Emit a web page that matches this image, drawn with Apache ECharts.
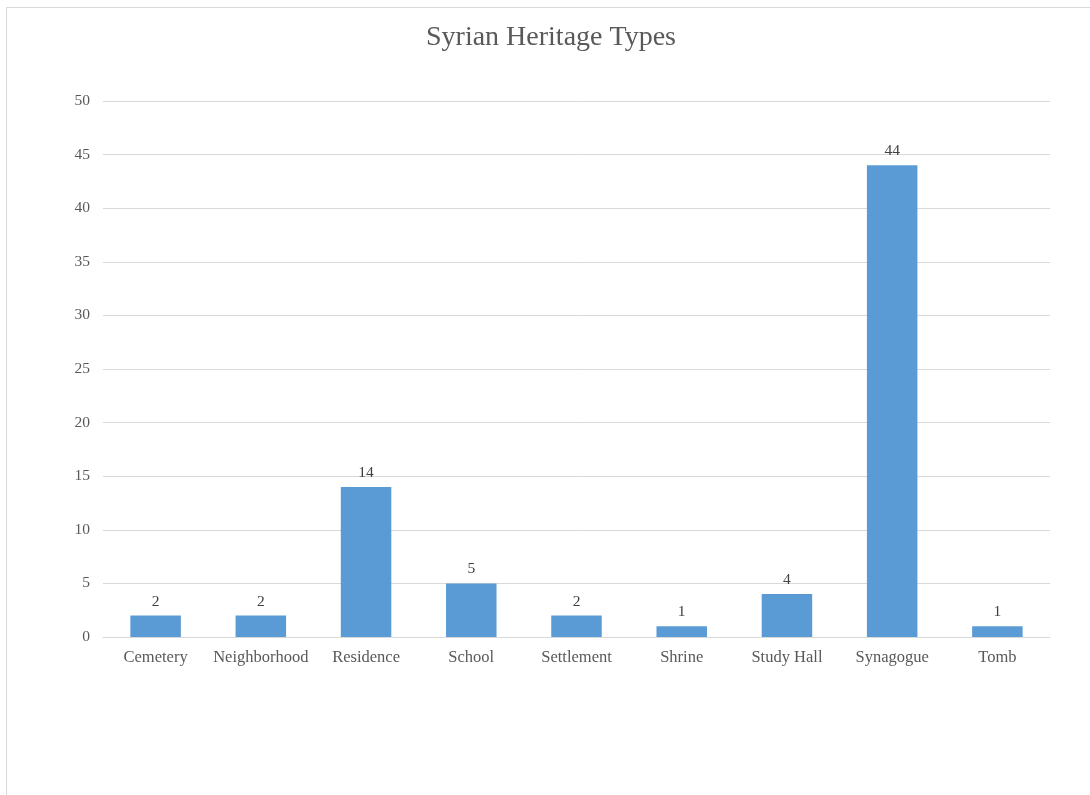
<!DOCTYPE html>
<html>
<head>
<meta charset="utf-8">
<script src="https://cdn.jsdelivr.net/npm/echarts@6/dist/echarts.min.js"></script>
<style>
  html, body { margin: 0; padding: 0; background: #fff; }
  #chart { width: 1090px; height: 795px; }
</style>
</head>
<body>
<div id="chart"></div>
<script>
// Heritage site counts by type
const categories = ['Cemetery', 'Neighborhood', 'Residence', 'School', 'Settlement', 'Shrine', 'Study Hall', 'Synagogue', 'Tomb'];
const counts = [2, 2, 14, 5, 2, 1, 4, 44, 1];
const yTicks = [0, 5, 10, 15, 20, 25, 30, 35, 40, 45, 50];

const serif = '"Liberation Serif", "DejaVu Serif", serif';
const textColor = '#595959';

const chart = echarts.init(document.getElementById('chart'));
chart.setOption({
  backgroundColor: '#fff',
  animation: false,
  graphic: [{
    type: 'rect',
    shape: { x: 6.5, y: 7.5, width: 1100, height: 800 },
    style: { fill: 'none', stroke: '#d9d9d9', lineWidth: 1 },
    silent: true
  }],
  title: {
    text: 'Syrian Heritage Types',
    left: 546,
    top: 19,
    textAlign: 'center',
    textStyle: { fontFamily: serif, fontSize: 28, fontWeight: 'normal', color: textColor }
  },
  grid: { left: 103, right: 40, top: 101, bottom: 158, containLabel: false },
  xAxis: {
    type: 'category',
    data: categories,
    axisLine: { lineStyle: { color: '#d9d9d9', width: 1 } },
    axisTick: { show: false },
    axisLabel: { interval: 0, fontFamily: serif, fontSize: 16.5, color: textColor, margin: 12 }
  },
  yAxis: {
    type: 'value',
    min: yTicks[0],
    max: yTicks[yTicks.length - 1],
    interval: yTicks[1] - yTicks[0],
    axisLine: { show: false },
    axisTick: { show: false },
    axisLabel: { fontFamily: serif, fontSize: 15.5, color: textColor, margin: 13 },
    splitLine: { lineStyle: { color: '#d9d9d9', width: 1 } }
  },
  series: [{
    type: 'bar',
    data: counts,
    barWidth: '48%',
    itemStyle: { color: '#5b9bd5' },
    label: {
      show: true,
      position: 'top',
      distance: 6,
      fontFamily: serif,
      fontSize: 15.5,
      color: '#404040'
    }
  }]
});
</script>
</body>
</html>
